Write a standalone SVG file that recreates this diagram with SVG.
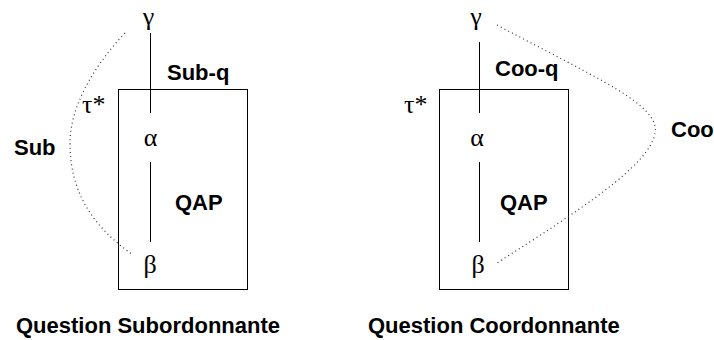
<svg xmlns="http://www.w3.org/2000/svg" width="714" height="340" viewBox="0 0 714 340">
<style>
.lbl{font-family:"Liberation Sans",Arial,sans-serif;font-weight:bold;font-size:22px;fill:#000}
.gr{font-family:"Liberation Serif","Times New Roman",serif;font-size:26px;fill:#000}
.edge{stroke:#000;stroke-width:1;fill:none}
.dot{stroke:#333;stroke-width:1.2;fill:none;stroke-dasharray:1 3.2}
.box{stroke:#000;stroke-width:1;fill:none}
</style>
<rect width="714" height="340" fill="#fff"/>
<g id="left">
  <g id="qap-left"><rect class="box" x="118.5" y="89.5" width="129" height="200"/><text class="lbl" x="175" y="210">QAP</text></g>
  <g id="gamma-left"><text class="gr" x="148.5" y="25" text-anchor="middle">γ</text></g>
  <g id="alpha-left"><text class="gr" x="150.5" y="146" text-anchor="middle">α</text></g>
  <g id="beta-left"><text class="gr" x="150" y="273" text-anchor="middle">β</text></g>
  <g id="tau-left"><text class="gr" x="82" y="113">τ*</text></g>
  <g id="subq-label"><text class="lbl" x="167" y="80">Sub-q</text></g>
  <g id="sub-label"><text class="lbl" x="14" y="155">Sub</text></g>
  <g id="title-left"><text class="lbl" x="16" y="333">Question Subordonnante</text></g>
</g>
<g id="right">
  <g id="qap-right"><rect class="box" x="439.5" y="89.5" width="129" height="200"/><text class="lbl" x="500" y="210">QAP</text></g>
  <g id="gamma-right"><text class="gr" x="476" y="25" text-anchor="middle">γ</text></g>
  <g id="alpha-right"><text class="gr" x="477" y="146" text-anchor="middle">α</text></g>
  <g id="beta-right"><text class="gr" x="478" y="273" text-anchor="middle">β</text></g>
  <g id="tau-right"><text class="gr" x="404" y="113">τ*</text></g>
  <g id="cooq-label"><text class="lbl" x="495" y="76">Coo-q</text></g>
  <g id="coo-label"><text class="lbl" x="671" y="137">Coo</text></g>
  <g id="title-right"><text class="lbl" x="368" y="333">Question Coordonnante</text></g>
</g>
<g id="connectors">
  <line class="edge" x1="150.5" y1="33" x2="150.5" y2="113"/>
  <line class="edge" x1="150.5" y1="162" x2="150.5" y2="242"/>
  <line class="edge" x1="479.5" y1="42" x2="479.5" y2="113"/>
  <line class="edge" x1="479.5" y1="162" x2="479.5" y2="242"/>
  <path class="dot" d="M125,33 C90,70 70,110 70,143 C70,195 95,228 133,255"/>
  <path class="dot" d="M497,25 C600,80 660,105 655,133 C650,165 580,210 497,263"/>
</g>
</svg>
